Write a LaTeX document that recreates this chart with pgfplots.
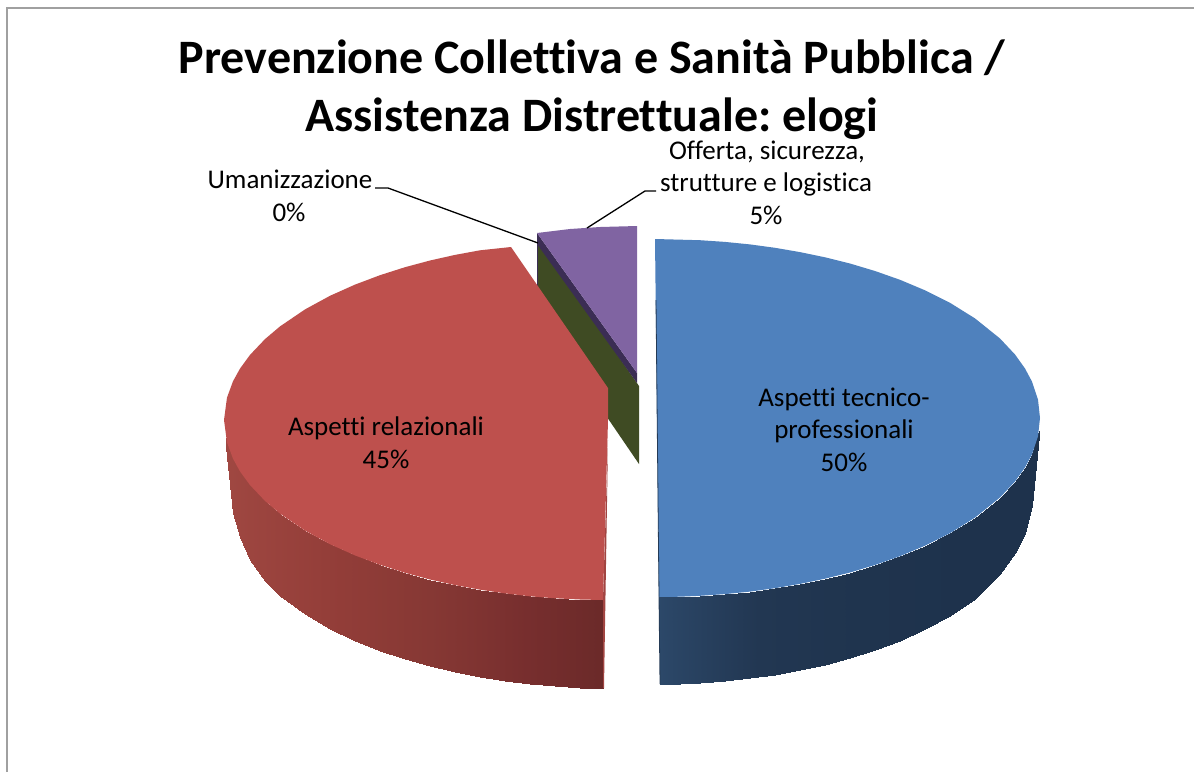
\documentclass[border=0pt]{standalone}
\usepackage{fontspec}
\setmainfont{Carlito}[Ligatures=CommonOff]
\usepackage{pgfplots}
\pgfplotsset{compat=1.18}

\definecolor{blutop}{HTML}{4F81BD}
\definecolor{redtop}{HTML}{BE504D}
\definecolor{purtop}{HTML}{8064A2}
\definecolor{purcut}{HTML}{3B2D54}
\definecolor{grecut}{HTML}{3F4B23}
\definecolor{frame}{HTML}{A0A0A0}

\pgfplotsset{
  colormap={bluside}{rgb255=(44,72,105) rgb255=(34,55,82) rgb255=(31,52,78) rgb255=(30,50,76) rgb255=(30,50,76)},
  colormap={redside}{rgb255=(160,72,66) rgb255=(148,62,57) rgb255=(134,56,52) rgb255=(119,46,46) rgb255=(107,42,41)},
}
\tikzset{
  lab/.style={font=\fontsize{27}{31}\selectfont, anchor=base, inner sep=0pt, text=black},
  ttl/.style={font=\fontsize{48}{56}\selectfont\bfseries, anchor=base, inner sep=0pt, text=black},
}

\begin{document}
\frenchspacing
\begin{tikzpicture}
\begin{axis}[
  scale only axis,
  width=1194pt, height=772pt,
  xmin=0, xmax=1194,
  ymin=0, ymax=772,
  y dir=reverse,
  hide axis,
  point meta min=0, point meta max=1,
]
% page and frame
\addplot[draw=none, fill=white] coordinates {(0,0) (1194,0) (1194,772) (0,772)} -- cycle;
\addplot[frame, line width=1.6pt] coordinates {(7,772) (7,8) (1194,8)};

% umanizzazione 0% and offerta 5%: cut faces and top
\addplot[draw=none, fill=grecut] coordinates {(538,240) (639,386) (639,464) (538,316)} -- cycle;
\addplot[draw=none, fill=purcut] coordinates {(537,233) (637,373) (637,383) (537,244)} -- cycle;
\addplot[purcut, line width=1.2pt] coordinates {(537.5,235) (537.5,290)};
\addplot[draw=none, fill=purtop] coordinates {(537,233) (570,229) (600,227) (637,226) (637,373)} -- cycle;

% red rim, left to right
\addplot[surf, shader=interp, colormap name=redside, mesh/rows=2, point meta=explicit]
  table[x=x, y=y, meta=c] {
x y c
226 438 0
233 458.7 0.03
240 471.4 0.05
250 485.1 0.08
265 500.9 0.11
280 513.6 0.15
305 530.6 0.2
330 544.2 0.26
355 555.4 0.32
380 564.8 0.38
405 572.8 0.44
430 579.5 0.5
455 585.1 0.56
480 589.7 0.62
505 593.4 0.69
530 596.3 0.76
555 598.3 0.84
580 599.5 0.92
603 600 1

226 447 0
233 513 0.03
240 537 0.05
250 560 0.08
265 581.3 0.11
280 595.5 0.15
305 614 0.2
330 628.7 0.26
355 640.7 0.32
380 650.8 0.38
405 659.2 0.44
430 666.3 0.5
455 672.3 0.56
480 677.1 0.62
505 681 0.69
530 684 0.76
555 686.2 0.84
580 687.5 0.92
603 688 1
};
\addplot[draw=none, fill=redtop!85!black] coordinates {(608,440) (604,688) (603,688) (603,600)} -- cycle;
\addplot[draw=none, fill=redtop] coordinates {
  (511,247) (480,250.3) (455,254.9) (430,260.5) (405,267.2) (380,275.2) (355,284.6)
  (330,295.8) (305,309.4) (280,326.4) (265,339.1) (250,354.9) (240,368.6) (233,381.3)
  (227,397.6) (224,420) (227,442.4) (233,458.7) (240,471.4) (250,485.1) (265,500.9)
  (280,513.6) (305,530.6) (330,544.2) (355,555.4) (380,564.8) (405,572.8) (430,579.5)
  (455,585.1) (480,589.7) (505,593.4) (530,596.3) (555,598.3) (580,599.5) (603,600)
  (608,420) (608,388)
} -- cycle;

% blue rim
\addplot[surf, shader=interp, colormap name=bluside, mesh/rows=2, point meta=explicit]
  table[x=x, y=y, meta=c] {
x y c
659 597 0
680 596.7 0.06
700 595.8 0.11
725 594.1 0.17
750 591.6 0.23
775 588.2 0.29
800 583.9 0.35
825 578.7 0.41
850 572.5 0.47
875 565 0.53
900 556.2 0.59
925 545.7 0.65
950 533.2 0.71
975 517.6 0.77
1000 497.5 0.83
1015 481.5 0.88
1025 467.5 0.92
1032 454.4 0.96
1039 431 1

660 684 0
680 683.6 0.06
700 682.7 0.11
725 680.9 0.17
750 678.2 0.23
775 674.6 0.29
800 670.1 0.35
825 664.6 0.41
850 657.9 0.47
875 650 0.53
900 640.5 0.59
925 629.3 0.65
950 615.6 0.71
975 598.7 0.77
1000 574 0.83
1015 553 0.88
1025 533 0.92
1032 505 0.96
1039 436 1
};
\addplot[draw=none, fill=blutop] coordinates {
  (655,239) (700,240.2) (725,241.9) (750,244.4) (775,247.8) (800,252.1) (825,257.3)
  (850,263.5) (875,271) (900,279.8) (925,290.3) (950,302.8) (975,318.4) (1000,338.5)
  (1015,354.5) (1025,368.5) (1032,381.6) (1038,399.7) (1040,418) (1038,436.3)
  (1032,454.4) (1025,467.5) (1015,481.5) (1000,497.5) (975,517.6) (950,533.2)
  (925,545.7) (900,556.2) (875,565) (850,572.5) (825,578.7) (800,583.9) (775,588.2)
  (750,591.6) (725,594.1) (700,595.8) (680,596.7) (659,597)
} -- cycle;
\addplot[draw=blutop!45!black, line width=0.8pt] coordinates {(656,300) (657,400) (659,597) (660,684)};

% leader lines
\addplot[black, line width=1.3pt] coordinates {(375,188) (388,188) (538,243)};
\addplot[black, line width=1.3pt] coordinates {(656,191) (645,191) (587,228)};

% title
\node[ttl] at (axis cs:592,73) {Prevenzione Collettiva e Sanità Pubblica /};
\node[ttl] at (axis cs:592,131) {Assistenza Distrettuale: elogi};

% data labels
\node[lab] at (axis cs:767,159) {Offerta, sicurezza,};
\node[lab] at (axis cs:766,191) {strutture e logistica};
\node[lab] at (axis cs:766,224) {5\%};
\node[lab] at (axis cs:290,188) {Umanizzazione};
\node[lab] at (axis cs:289,221) {0\%};
\node[lab] at (axis cs:386,435) {Aspetti relazionali};
\node[lab] at (axis cs:386,468) {45\%};
\node[lab] at (axis cs:844,406) {Aspetti tecnico-};
\node[lab] at (axis cs:844,438) {professionali};
\node[lab] at (axis cs:844,471) {50\%};
\end{axis}
\end{tikzpicture}
\end{document}
